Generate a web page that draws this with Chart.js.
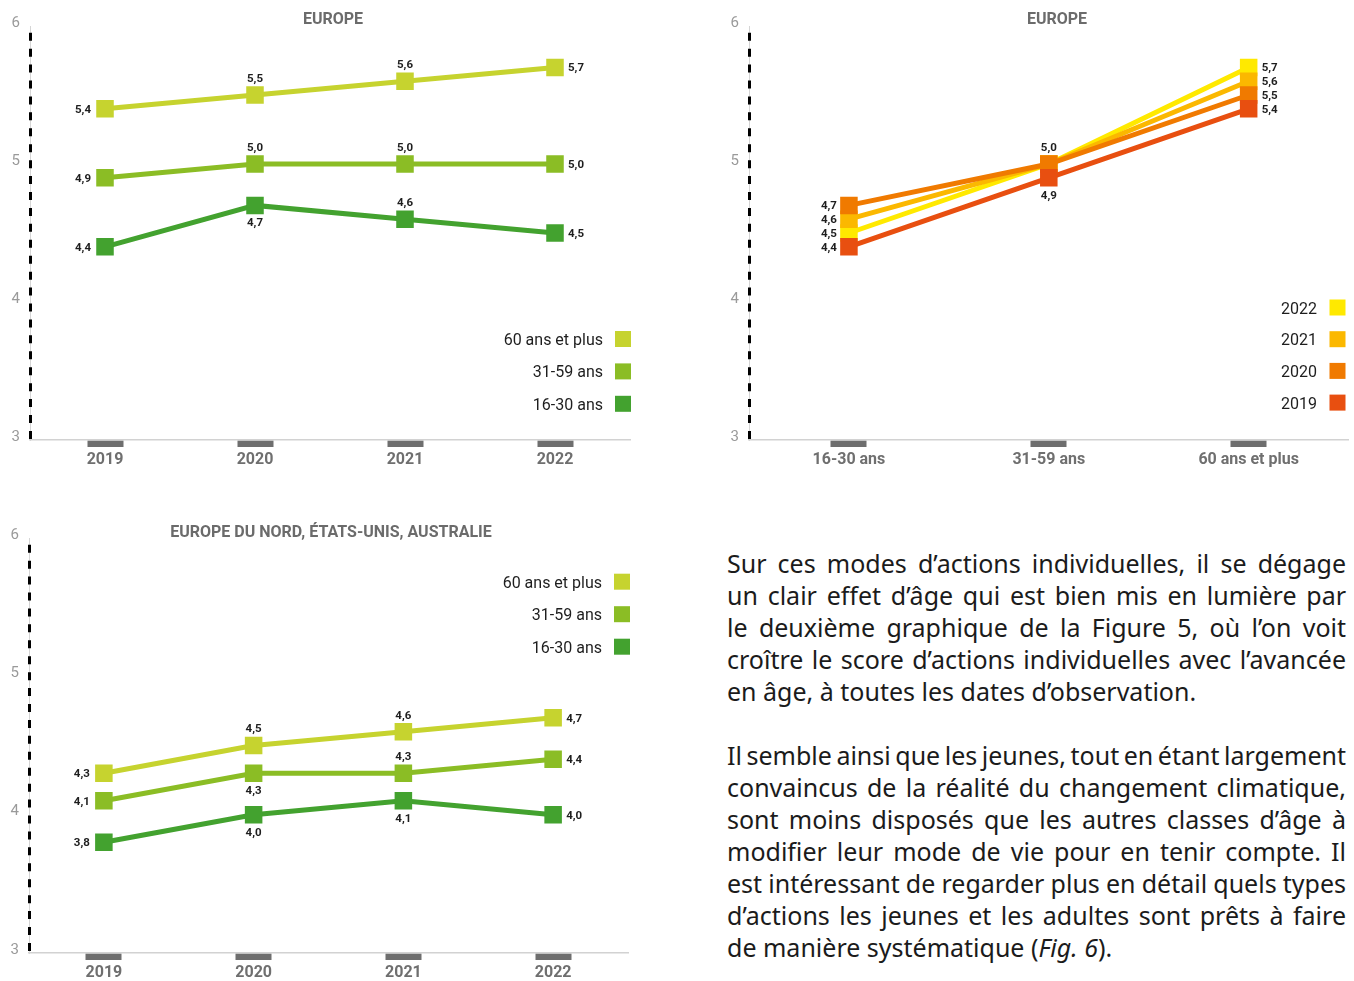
<!DOCTYPE html>
<html lang="fr">
<head>
<meta charset="utf-8">
<script src="https://cdn.jsdelivr.net/npm/chart.js@4.4.0/dist/chart.umd.min.js"></script>
<style>
  html, body { margin: 0; padding: 0; background: #fff; }
  body { width: 1354px; height: 981px; position: relative; overflow: hidden; }
  .box { position: absolute; }
  #txt { position: absolute; left: 727px; top: 547px; width: 619px;
         font-family: "Noto Sans", sans-serif; font-size: 25px; color: #1b1b1b; line-height: 32px; }
  #txt .l { white-space: nowrap; height: 32px; }
  #txt .gap { height: 32px; }
</style>
</head>
<body>
<div class="box" style="left:0;top:0;width:680px;height:480px"><canvas id="c1"></canvas></div>
<div class="box" style="left:700px;top:0;width:661px;height:480px"><canvas id="c2"></canvas></div>
<div class="box" style="left:0;top:500px;width:680px;height:481px"><canvas id="c3"></canvas></div>

<div id="txt">
  <div class="l j"><span>Sur ces modes d’actions individuelles, il se dégage</span></div>
  <div class="l j"><span>un clair effet d’âge qui est bien mis en lumière par</span></div>
  <div class="l j"><span>le deuxième graphique de la Figure 5, où l’on voit</span></div>
  <div class="l j"><span>croître le score d’actions individuelles avec l’avancée</span></div>
  <div class="l"><span>en âge, à toutes les dates d’observation.</span></div>
  <div class="gap"></div>
  <div class="l j"><span>Il semble ainsi que les jeunes, tout en étant largement</span></div>
  <div class="l j"><span>convaincus de la réalité du changement climatique,</span></div>
  <div class="l j"><span>sont moins disposés que les autres classes d’âge à</span></div>
  <div class="l j"><span>modifier leur mode de vie pour en tenir compte. Il</span></div>
  <div class="l j"><span>est intéressant de regarder plus en détail quels types</span></div>
  <div class="l j"><span>d’actions les jeunes et les adultes sont prêts à faire</span></div>
  <div class="l"><span>de manière systématique (<i>Fig. 6</i>).</span></div>
</div>

<script>
// ---------- DATA ----------
const years = ['2019', '2020', '2021', '2022'];
const ageGroups = ['16-30 ans', '31-59 ans', '60 ans et plus'];
const ageLegend = ['60 ans et plus', '31-59 ans', '16-30 ans'];

// Europe, by year
const europe60 = [5.4, 5.5, 5.6, 5.7];
const europe3159 = [4.9, 5.0, 5.0, 5.0];
const europe1630 = [4.4, 4.7, 4.6, 4.5];

// Europe, by age group
const europe2019 = [4.4, 4.9, 5.4];
const europe2020 = [4.7, 5.0, 5.5];
const europe2021 = [4.6, 5.0, 5.6];
const europe2022 = [4.5, 5.0, 5.7];

// Europe du Nord, États-Unis, Australie, by year
const nord60 = [4.3, 4.5, 4.6, 4.7];
const nord3159 = [4.1, 4.3, 4.3, 4.4];
const nord1630 = [3.8, 4.0, 4.1, 4.0];

const yTicks = [3, 4, 5, 6];

// ---------- STYLE ----------
const C60 = '#c6d32f', C3159 = '#8bbd25', C1630 = '#43a22f';
const Y2022 = '#ffe900', Y2021 = '#fbb800', Y2020 = '#f07a00', Y2019 = '#e84f10';

Chart.defaults.font.family = 'Roboto, "Noto Sans", sans-serif';
Chart.defaults.animation = false;

const fmt = v => v.toFixed(1).replace('.', ',');

const deco = {
  id: 'deco',
  afterDraw(chart, args, o) {
    const ctx = chart.ctx, a = chart.chartArea;
    ctx.save();
    // dashed y axis
    ctx.strokeStyle = '#000';
    ctx.lineWidth = 3;
    ctx.setLineDash([8, 7.93]);
    ctx.beginPath();
    ctx.moveTo(a.left + 0.5, a.top + 6.7);
    ctx.lineTo(a.left + 0.5, a.bottom);
    ctx.stroke();
    ctx.setLineDash([]);
    // title
    ctx.font = 'bold 16px Roboto';
    ctx.fillStyle = '#6b6b6b';
    ctx.textAlign = 'center';
    ctx.textBaseline = 'middle';
    ctx.fillText(o.title, o.titleX, o.titleY);
    // legend
    ctx.font = '16px Roboto';
    o.legendOrder.forEach((di, k) => {
      const ds = chart.data.datasets[di];
      const y = o.legY + k * o.legStep;
      ctx.fillStyle = '#1e1e1e';
      ctx.textAlign = 'right';
      ctx.fillText(ds.label, o.legTextRight, y + 2);
      ctx.fillStyle = ds.borderColor;
      ctx.fillRect(o.legSquareLeft, y - 8, 16, 16);
    });
    // value labels
    ctx.font = 'bold 11.5px Roboto';
    ctx.fillStyle = '#1e1e1e';
    chart.data.datasets.forEach((ds, di) => {
      const meta = chart.getDatasetMeta(di);
      meta.data.forEach((pt, i) => {
        const p = o.labelPos[di][i];
        const t = fmt(ds.data[i]);
        const y = pt.y + 1;
        if (p === 'L') { ctx.textAlign = 'right'; ctx.fillText(t, pt.x - o.sideGapL, y); }
        else if (p === 'R') { ctx.textAlign = 'left'; ctx.fillText(t, pt.x + o.sideGapR, y); }
        else if (p === 'A') { ctx.textAlign = 'center'; ctx.fillText(t, pt.x, y - 17); }
        else if (p === 'B') { ctx.textAlign = 'center'; ctx.fillText(t, pt.x, y + 17); }
      });
    });
    ctx.restore();
  }
};

function lineDs(label, data, color, order) {
  return {
    label, data, borderColor: color, backgroundColor: color,
    borderWidth: 5, pointStyle: 'rect', pointRadius: 12.4, pointHoverRadius: 12.4,
    pointBorderWidth: 0, pointBackgroundColor: color, tension: 0, order: order || 0
  };
}

function makeChart(id, labels, datasets, L) {
  return new Chart(document.getElementById(id), {
    type: 'line',
    data: { labels, datasets },
    options: {
      responsive: true, maintainAspectRatio: false,
      layout: { padding: { left: 0, right: L.padRight, top: L.padTop, bottom: 0 } },
      events: [],
      plugins: { legend: { display: false }, tooltip: { enabled: false }, title: { display: false },
                 deco: L.deco },
      scales: {
        x: {
          type: 'category', offset: true,
          afterFit: s => { s.height = L.xHeight; s.paddingLeft = 0; s.paddingRight = 0; },
          grid: { display: true, drawOnChartArea: false, drawTicks: true, tickLength: 7,
                  tickWidth: 36, tickColor: '#6e6e6e', color: '#6e6e6e' },
          border: { display: true, color: '#d2d2d2', width: 1.5 },
          ticks: { padding: 3, color: '#6f6f6f', font: { size: 16, weight: 'bold' }, maxRotation: 0 }
        },
        y: {
          min: yTicks[0], max: yTicks[yTicks.length - 1],
          afterFit: s => { s.width = L.yWidth; },
          afterBuildTicks: s => { s.ticks = yTicks.map(v => ({ value: v })); },
          grid: { display: false, drawTicks: false },
          border: { display: true, color: '#d5d5d5', width: 1 },
          ticks: { padding: 10, labelOffset: -3, color: '#9a9a9a', font: { size: 15 },
                   callback: v => String(v) }
        }
      }
    },
    plugins: [deco]
  });
}

makeChart('c1', years, [
  lineDs(ageLegend[0], europe60, C60),
  lineDs(ageLegend[1], europe3159, C3159),
  lineDs(ageLegend[2], europe1630, C1630)
], {
  padRight: 50, padTop: 26, xHeight: 40, yWidth: 30,
  deco: {
    title: 'EUROPE', titleX: 333, titleY: 19.5,
    legendOrder: [0, 1, 2], legY: 339, legStep: 32.4, legTextRight: 603, legSquareLeft: 615,
    sideGapL: 14, sideGapR: 13,
    labelPos: [['L', 'A', 'A', 'R'], ['L', 'A', 'A', 'R'], ['L', 'B', 'A', 'R']]
  }
});

makeChart('c2', ageGroups, [
  lineDs('2022', europe2022, Y2022, 3),
  lineDs('2021', europe2021, Y2021, 2),
  lineDs('2020', europe2020, Y2020, 1),
  lineDs('2019', europe2019, Y2019, 0)
], {
  padRight: 5, padTop: 26, xHeight: 40, yWidth: 49,
  deco: {
    title: 'EUROPE', titleX: 357, titleY: 19.5,
    legendOrder: [0, 1, 2, 3], legY: 307.5, legStep: 31.7, legTextRight: 617, legSquareLeft: 629.5,
    sideGapL: 12, sideGapR: 13,
    labelPos: [['L', 'N', 'R'], ['L', 'N', 'R'], ['L', 'A', 'R'], ['L', 'B', 'R']]
  }
});

makeChart('c3', years, [
  lineDs(ageLegend[0], nord60, C60),
  lineDs(ageLegend[1], nord3159, C3159),
  lineDs(ageLegend[2], nord1630, C1630)
], {
  padRight: 52, padTop: 38, xHeight: 28, yWidth: 29,
  deco: {
    title: 'EUROPE DU NORD, ÉTATS-UNIS, AUSTRALIE', titleX: 331, titleY: 33,
    legendOrder: [0, 1, 2], legY: 81.7, legStep: 32.5, legTextRight: 602, legSquareLeft: 614,
    sideGapL: 14, sideGapR: 13,
    labelPos: [['L', 'A', 'A', 'R'], ['L', 'B', 'A', 'R'], ['L', 'B', 'B', 'R']]
  }
});

// justify text lines to the block width
function justify() {
  const W = 619;
  document.querySelectorAll('#txt .j span').forEach(sp => {
    sp.style.wordSpacing = '0px';
    const w = sp.getBoundingClientRect().width;
    const n = (sp.textContent.match(/ /g) || []).length;
    if (n) sp.style.wordSpacing = ((W - w) / n) + 'px';
  });
}
justify();
if (document.fonts && document.fonts.ready) document.fonts.ready.then(justify);
</script>
</body>
</html>
